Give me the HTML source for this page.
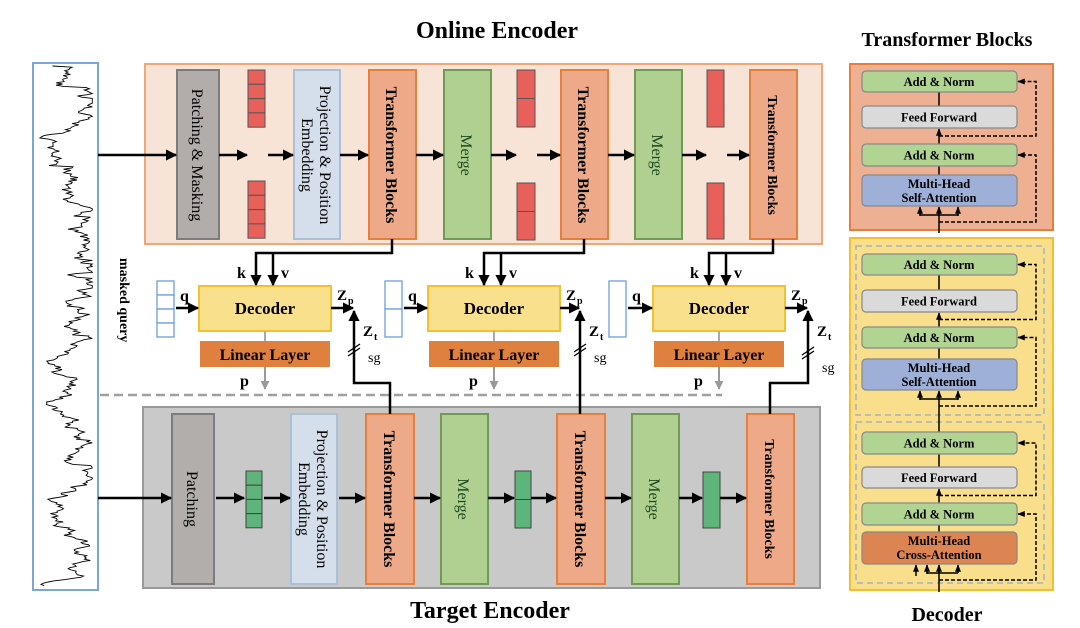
<!DOCTYPE html>
<html><head><meta charset="utf-8"><style>
html,body{margin:0;padding:0;background:#fff;}
svg{display:block;font-family:"Liberation Serif",serif;}
</style></head><body>
<svg id="s" width="1080" height="628" viewBox="0 0 1080 628" xmlns="http://www.w3.org/2000/svg">
<defs>
<marker id="ah" viewBox="0 0 10 10" refX="9" refY="5" markerWidth="4.5" markerHeight="4.5" orient="auto"><path d="M0,0L10,5L0,10z" fill="#000"/></marker>
<marker id="ahg" viewBox="0 0 10 10" refX="9" refY="5" markerWidth="4.5" markerHeight="4.5" orient="auto"><path d="M0,0L10,5L0,10z" fill="#999"/></marker>
<marker id="as" viewBox="0 0 10 10" refX="9" refY="5" markerWidth="5" markerHeight="5" orient="auto"><path d="M0,1L10,5L0,9z" fill="#000"/></marker>
</defs>

<text x="497" y="38" font-size="24" font-weight="bold" text-anchor="middle">Online Encoder</text>
<text x="490" y="618" font-size="24" font-weight="bold" text-anchor="middle">Target Encoder</text>
<text x="947" y="46" font-size="20" font-weight="bold" text-anchor="middle">Transformer Blocks</text>
<text x="947" y="621" font-size="20" font-weight="bold" text-anchor="middle">Decoder</text>

<rect x="33" y="63" width="65" height="527" fill="#fff" stroke="#7aa6dc" stroke-width="2"/>
<polyline id="wave" fill="none" stroke="#000" stroke-width="0.9" points=""/>

<text transform="translate(120,258) rotate(90)" font-size="14" font-weight="bold">masked query</text>

<rect x="145" y="64" width="677" height="180" fill="#f8e4d6" stroke="#f0a878" stroke-width="2"/>
<g stroke-width="2">
<rect x="177" y="70" width="42" height="169" fill="#b2acaa" stroke="#7c7c7c"/>
<rect x="294" y="70" width="46" height="169" fill="#d5dfec" stroke="#aabfd8"/>
<rect x="369" y="70" width="47" height="169" fill="#eeaa88" stroke="#e4803c"/>
<rect x="444" y="70" width="47" height="169" fill="#b0d092" stroke="#6e9c52"/>
<rect x="561" y="70" width="47" height="169" fill="#eeaa88" stroke="#e4803c"/>
<rect x="635" y="70" width="47" height="169" fill="#b0d092" stroke="#6e9c52"/>
<rect x="750" y="70" width="47" height="169" fill="#eeaa88" stroke="#e4803c"/>
</g>
<g fill="#e8605a" stroke="#555" stroke-width="1">
<rect x="248" y="70" width="17" height="14.3"/><rect x="248" y="84.3" width="17" height="14.3"/><rect x="248" y="98.6" width="17" height="14.3"/><rect x="248" y="112.9" width="17" height="14.3"/>
<rect x="248" y="181" width="17" height="14.3"/><rect x="248" y="195.3" width="17" height="14.3"/><rect x="248" y="209.6" width="17" height="14.3"/><rect x="248" y="223.9" width="17" height="14.3"/>
<rect x="517" y="70" width="18" height="28.5"/><rect x="517" y="98.5" width="18" height="28.5"/>
<rect x="517" y="183" width="18" height="28.5"/><rect x="517" y="211.5" width="18" height="28.5"/>
<rect x="707" y="70" width="17" height="57"/>
<rect x="707" y="183" width="17" height="56"/>
</g>
<g font-size="16" text-anchor="middle">
<text transform="translate(198,155) rotate(90)" dy="6">Patching &amp; Masking</text>
<text transform="translate(317,155) rotate(90)" dy="-3">Projection &amp; Position</text>
<text transform="translate(317,155) rotate(90)" dy="15">Embedding</text>
<text transform="translate(467,155) rotate(90)" dy="6" fill="#1d4a1d">Merge</text>
<text transform="translate(658,155) rotate(90)" dy="6" fill="#1d4a1d">Merge</text>
<g font-weight="bold"><text transform="translate(392,155) rotate(90)" dy="6">Transformer Blocks</text>
<text transform="translate(584,155) rotate(90)" dy="6">Transformer Blocks</text>
<text transform="translate(773,155) rotate(90)" dy="5" font-size="14">Transformer Blocks</text></g>
</g>
<g stroke="#000" stroke-width="2.5" marker-end="url(#ah)">
<line x1="98" y1="155" x2="176" y2="155"/>
<line x1="219" y1="155" x2="247" y2="155"/>
<line x1="268" y1="155" x2="293" y2="155"/>
<line x1="340" y1="155" x2="368" y2="155"/>
<line x1="416" y1="155" x2="443" y2="155"/>
<line x1="491" y1="155" x2="516" y2="155"/>
<line x1="537" y1="155" x2="560" y2="155"/>
<line x1="608" y1="155" x2="634" y2="155"/>
<line x1="682" y1="155" x2="706" y2="155"/>
<line x1="727" y1="155" x2="749" y2="155"/>
</g>

<line x1="100" y1="395" x2="722" y2="395" stroke="#a0a0a0" stroke-width="2.5" stroke-dasharray="9,5"/>

<rect x="143" y="407" width="677" height="181" fill="#c9c9c9" stroke="#999" stroke-width="2"/>
<g stroke-width="2">
<rect x="172" y="414" width="42" height="170" fill="#b2aeac" stroke="#7c7c7c"/>
<rect x="291" y="414" width="46" height="170" fill="#d5dfec" stroke="#aabfd8"/>
<rect x="366" y="414" width="48" height="170" fill="#eeaa88" stroke="#e4803c"/>
<rect x="441" y="414" width="47" height="170" fill="#b0d092" stroke="#6e9c52"/>
<rect x="557" y="414" width="48" height="170" fill="#eeaa88" stroke="#e4803c"/>
<rect x="632" y="414" width="47" height="170" fill="#b0d092" stroke="#6e9c52"/>
<rect x="747" y="414" width="47" height="170" fill="#eeaa88" stroke="#e4803c"/>
</g>
<g fill="#5fb47a" stroke="#444" stroke-width="1">
<rect x="246" y="471" width="16" height="14.2"/><rect x="246" y="485.2" width="16" height="14.2"/><rect x="246" y="499.4" width="16" height="14.2"/><rect x="246" y="513.6" width="16" height="14.2"/>
<rect x="515" y="471" width="16" height="28.5"/><rect x="515" y="499.5" width="16" height="28.5"/>
<rect x="703" y="472" width="17" height="56"/>
</g>
<g font-size="16" text-anchor="middle">
<text transform="translate(193,499) rotate(90)" dy="6">Patching</text>
<text transform="translate(314,499) rotate(90)" dy="-3">Projection &amp; Position</text>
<text transform="translate(314,499) rotate(90)" dy="15">Embedding</text>
<text transform="translate(464,499) rotate(90)" dy="6" fill="#1d4a1d">Merge</text>
<text transform="translate(655,499) rotate(90)" dy="6" fill="#1d4a1d">Merge</text>
<g font-weight="bold"><text transform="translate(390,499) rotate(90)" dy="6">Transformer Blocks</text>
<text transform="translate(581,499) rotate(90)" dy="6">Transformer Blocks</text>
<text transform="translate(770,499) rotate(90)" dy="5" font-size="14">Transformer Blocks</text></g>
</g>
<g stroke="#000" stroke-width="2.5" marker-end="url(#ah)">
<line x1="98" y1="498" x2="171" y2="498"/>
<line x1="216" y1="498" x2="244" y2="498"/>
<line x1="264" y1="498" x2="290" y2="498"/>
<line x1="339" y1="498" x2="365" y2="498"/>
<line x1="414" y1="498" x2="440" y2="498"/>
<line x1="488" y1="498" x2="514" y2="498"/>
<line x1="531" y1="498" x2="556" y2="498"/>
<line x1="605" y1="498" x2="631" y2="498"/>
<line x1="679" y1="498" x2="702" y2="498"/>
<line x1="720" y1="498" x2="746" y2="498"/>
</g>

<g id="decs"></g>

<rect x="850" y="64" width="203" height="166" fill="#eeb092" stroke="#e4803c" stroke-width="2"/>
<rect x="850" y="238" width="203" height="352" fill="#f9df8c" stroke="#f5c030" stroke-width="2"/>
<rect x="856" y="246" width="188" height="169" fill="none" stroke="#a8b4b8" stroke-width="1.5" stroke-dasharray="6,4"/>
<rect x="856" y="422" width="188" height="161" fill="none" stroke="#a8b4b8" stroke-width="1.5" stroke-dasharray="6,4"/>
<g id="rp"></g>
</svg>
<script>
(function(){
 var seed=11;function r(){seed=(seed*16807)%2147483647;return seed/2147483647;}
 var pts=[],v=0.4;
 for(var y=66;y<=586;y+=1.2){
  v+= (r()-0.5)*0.3; v+= (0.4-v)*0.06;
  if(r()<0.08) v+= (r()-0.3)*0.7;
  if(v<0.03)v=0.03; if(v>0.97)v=0.97;
  pts.push((38+v*56).toFixed(1)+","+y.toFixed(1));
 }
 document.getElementById('wave').setAttribute('points',pts.join(' '));
})();
var NS="http://www.w3.org/2000/svg";
function el(p,t,a,txt){var e=document.createElementNS(NS,t);for(var k in a)e.setAttribute(k,a[k]);if(txt!=null)e.textContent=txt;p.appendChild(e);return e;}
var D=document.getElementById('decs');
var decs=[{x:199,tb:392,qx:157,qn:4,zx:354,tt:390},{x:428,tb:584,qx:385,qn:2,zx:580,tt:581},{x:653,tb:773,qx:609,qn:1,zx:808,tt:770}];
decs.forEach(function(d,i){
 var w=132;
 el(D,'rect',{x:d.x,y:286,width:w,height:45,fill:'#f9e08c',stroke:'#f5c030','stroke-width':2});
 el(D,'text',{x:d.x+w/2,y:314,'font-size':17,'font-weight':'bold','text-anchor':'middle'},'Decoder');
 el(D,'line',{x1:d.x+w/2,y1:331,x2:d.x+w/2,y2:341,stroke:'#aaa','stroke-width':2});
 el(D,'rect',{x:d.x+1,y:341,width:w-2,height:26,fill:'#e0803e'});
 el(D,'text',{x:d.x+w/2,y:360,'font-size':16,'font-weight':'bold','text-anchor':'middle'},'Linear Layer');
 el(D,'line',{x1:d.x+w/2,y1:367,x2:d.x+w/2,y2:389,stroke:'#999','stroke-width':2,'marker-end':'url(#ahg)'});
 el(D,'text',{x:d.x+w/2-25,y:386,'font-size':16,'font-weight':'bold'},'p');
 var qh=56,ch=qh/d.qn;
 for(var j=0;j<d.qn;j++)el(D,'rect',{x:d.qx,y:281+j*ch,width:17,height:ch,fill:'#fff',stroke:'#6a9ee0','stroke-width':1.3});
 el(D,'text',{x:d.qx+23,y:301,'font-size':16,'font-weight':'bold'},'q');
 el(D,'line',{x1:d.qx+19,y1:308,x2:d.x-1,y2:308,stroke:'#000','stroke-width':2.5,'marker-end':'url(#ah)'});
 var kx=d.x+w/2-10, vx=d.x+w/2+7;
 if(i==0){kx=256;vx=273;}
 el(D,'polyline',{points:d.tb+',239 '+d.tb+',253 '+kx+',253 '+kx+',285',fill:'none',stroke:'#000','stroke-width':2.5,'marker-end':'url(#ah)'});
 el(D,'line',{x1:vx,y1:253,x2:vx,y2:285,stroke:'#000','stroke-width':2.5,'marker-end':'url(#ah)'});
 el(D,'text',{x:kx-19,y:278,'font-size':16,'font-weight':'bold'},'k');
 el(D,'text',{x:vx+8,y:278,'font-size':16,'font-weight':'bold'},'v');
 el(D,'line',{x1:d.x+w,y1:308,x2:d.zx-1,y2:308,stroke:'#000','stroke-width':2.5,'marker-end':'url(#ah)'});
 el(D,'text',{x:d.x+w+6,y:300,'font-size':15,'font-weight':'bold'},'Z');
 el(D,'text',{x:d.x+w+17,y:304,'font-size':10,'font-weight':'bold'},'p');
 var pth;
 if(i!=1) pth=d.tt+',414 '+d.tt+',383 '+d.zx+',383 '+d.zx+',311';
 else pth=d.zx+',414 '+d.zx+',311';
 el(D,'polyline',{points:pth,fill:'none',stroke:'#000','stroke-width':2.5,'marker-end':'url(#ah)'});
 el(D,'text',{x:d.zx+9,y:336,'font-size':15,'font-weight':'bold'},'Z');
 el(D,'text',{x:d.zx+20,y:340,'font-size':10,'font-weight':'bold'},'t');
 var sy=(i==2)?350:347;
 el(D,'line',{x1:d.zx-6,y1:sy+5,x2:d.zx+6,y2:sy-3,stroke:'#000','stroke-width':1.3});
 el(D,'line',{x1:d.zx-6,y1:sy+9,x2:d.zx+6,y2:sy+1,stroke:'#000','stroke-width':1.3});
 el(D,'text',{x:d.zx+14,y:(i==2)?372:362,'font-size':14},'sg');
});
var R=document.getElementById('rp');
function blk(y1,y2,txt,fill,txt2){
 el(R,'rect',{x:862,y:y1,width:155,height:y2-y1,rx:4,fill:fill,stroke:'#888','stroke-width':1.2});
 if(txt2){el(R,'text',{x:939,y:y1+13,'font-size':12.5,'font-weight':'bold','text-anchor':'middle'},txt);
  el(R,'text',{x:939,y:y1+27,'font-size':12.5,'font-weight':'bold','text-anchor':'middle'},txt2);}
 else el(R,'text',{x:939,y:(y1+y2)/2+4.5,'font-size':12.5,'font-weight':'bold','text-anchor':'middle'},txt);
}
function line(x1,y1,x2,y2,d,m){var a={x1:x1,y1:y1,x2:x2,y2:y2,stroke:'#000','stroke-width':1.5};if(d)a['stroke-dasharray']='4,2';if(m)a['marker-end']='url(#as)';el(R,'line',a);}
function poly(p,d,m){var a={points:p,fill:'none',stroke:'#000','stroke-width':1.5};if(d)a['stroke-dasharray']='4,2';if(m)a['marker-end']='url(#as)';el(R,'polyline',a);}
function stack(top,cross){
 var an1=top[0],ff=top[1],an2=top[2],mh=top[3],bot=top[4];
 line(939,an1[1],939,ff[0]); line(939,an2[0],939,ff[1]+1,false,true);
 line(939,an2[1],939,mh[0]);
 line(939,bot,939,mh[1]+1,false,true);
 var hy=mh[1]+9;
 if(!cross){ poly('920,'+(hy+1)+' 920,'+hy+' 958,'+hy+' 958,'+(hy+1)); line(920,hy,920,mh[1]+1,false,true); line(958,hy,958,mh[1]+1,false,true);}
 else { poly('927,'+(hy+1)+' 927,'+hy+' 958,'+hy); line(927,hy,927,mh[1]+1,false,true); line(958,hy,958,mh[1]+1,false,true); line(916,hy+3,916,mh[1]+1,false,true);}
 var fy=(ff[1]+an2[0])/2;
 poly('939,'+fy+' 1036,'+fy+' 1036,'+((an1[0]+an1[1])/2)+' 1018,'+((an1[0]+an1[1])/2),true,true);
 var by=mh[1]+16;
 poly('939,'+by+' 1036,'+by+' 1036,'+((an2[0]+an2[1])/2)+' 1018,'+((an2[0]+an2[1])/2),true,true);
 blk(an1[0],an1[1],'Add & Norm','#b2d492');
 blk(ff[0],ff[1],'Feed Forward','#dadada');
 blk(an2[0],an2[1],'Add & Norm','#b2d492');
 if(cross) blk(mh[0],mh[1],'Multi-Head','#dd8552','Cross-Attention');
 else blk(mh[0],mh[1],'Multi-Head','#9fb0d8','Self-Attention');
}
stack([[71,92],[106,128],[144,166],[175,206],233],false);
stack([[254,275],[290,312],[327,348],[359,390],432],false);
stack([[432,454],[467,488],[503,525],[532,564],592],true);
</script>
</body></html>
